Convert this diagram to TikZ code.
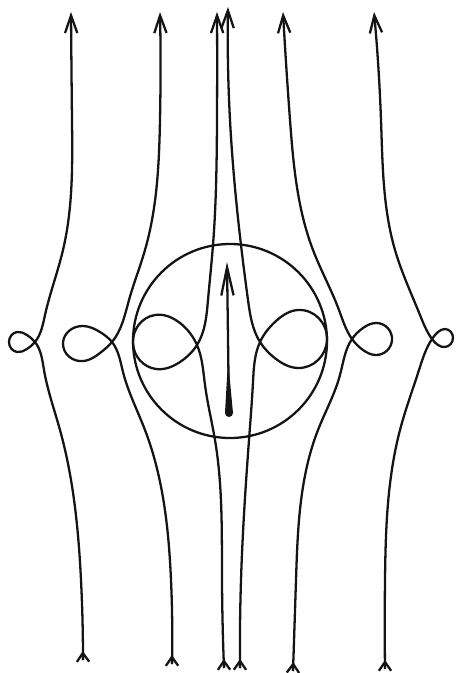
\documentclass[tikz,border=0pt]{standalone}
\usepackage{tikz}
\usetikzlibrary{arrows.meta,hobby}
\def\fieldedge{1.3}
\definecolor{fieldblack}{rgb}{0.08,0.08,0.08}
\tikzset{fieldline/.style={line width=\fieldedge, color=fieldblack, use Hobby shortcut,
    -{Straight Barb[length=10pt,width=7pt]}},
  tailtip/.style={line width=\fieldedge, color=fieldblack, -{Straight Barb[length=5pt,width=7pt]}}}

\begin{document}
\begin{tikzpicture}[x = 0.02cm, y = -0.02cm, scale = 1]

            \useasboundingbox (0,0) rectangle (456,673);

            % outer left line
            \node (t1) at (71,12){};
            \node (p1) at (72,120){};
            \node (q1) at (63,250){};
            \node (n1) at (45,315){};
            \node (c1) at (35,342){};
            \node (k1) at (27,349){};
            \node (l1) at (17,352){};
            \node (f1) at (9,342){};
            \node (u1) at (17,332){};
            \node (v1) at (27,335){};
            \node (m1) at (44,370){};
            \node (r1) at (60,430){};
            \node (s1) at (81,580){};
            \node (e1) at (82.8,651){};
            \node (b1) at (83,660){};

            \node (t2) at (160,12){};
            \node (p2) at (160,120){};
            \node (q2) at (145,250){};
            \node (n2) at (129,300){};
            \node (c2) at (112,342){};
            \node (k2) at (100,353){};
            \node (l2) at (84,361){};
            \node (f2) at (63,343){};
            \node (u2) at (83,326){};
            \node (v2) at (100,332){};
            \node (m2) at (123,372){};
            \node (r2) at (145,430){};
            \node (s2) at (171,580){};
            \node (e2) at (171.9,655){};
            \node (b2) at (172,664){};

            % lines through the circle
            \node (t3) at (217,12){};
            \node (p3) at (217,120){};
            \node (q3) at (213,245){};
            \node (n3) at (208,300){};
            \node (c3) at (197,345){};
            \node (k3) at (180,362){};
            \node (l3) at (156,369){};
            \node (f3) at (133,343){};
            \node (u3) at (155,315){};
            \node (v3) at (180,323){};
            \node (m3) at (205,385){};
            \node (r3) at (215,440){};
            \node (s3) at (222,580){};
            \node (e3) at (223.8,659){};
            \node (b3) at (224,668){};

            \node (t4) at (228,7){};
            \node (p4) at (230,120){};
            \node (q4) at (241,245){};
            \node (n4) at (248,300){};
            \node (c4) at (260,342){};
            \node (k4) at (276,359){};
            \node (l4) at (298,368){};
            \node (f4) at (327,340){};
            \node (u4) at (298,310){};
            \node (v4) at (276,321){};
            \node (m4) at (253,382){};
            \node (r4) at (249,440){};
            \node (s4) at (241,580){};
            \node (e4) at (240.1,659){};
            \node (b4) at (240,668){};

            % right lines
            \node (t5) at (283,12){};
            \node (p5) at (290,120){};
            \node (q5) at (313,250){};
            \node (n5) at (339,310){};
            \node (c5) at (352,339){};
            \node (k5) at (363,350){};
            \node (l5) at (376,355){};
            \node (f5) at (392,340){};
            \node (u5) at (377,323){};
            \node (v5) at (363,328){};
            \node (m5) at (340,375){};
            \node (r5) at (318,430){};
            \node (s5) at (296,580){};
            \node (e5) at (293.3,662){};
            \node (b5) at (293,671){};

            \node (t6) at (374,12){};
            \node (p6) at (381,120){};
            \node (q6) at (395,250){};
            \node (n6) at (420,315){};
            \node (c6) at (432,339){};
            \node (k6) at (438,345){};
            \node (l6) at (445,347){};
            \node (f6) at (453,338){};
            \node (u6) at (445,329){};
            \node (v6) at (438,332){};
            \node (m6) at (419,370){};
            \node (r6) at (400,430){};
            \node (s6) at (385,580){};
            \node (e6) at (385,660){};
            \node (b6) at (385,669){};

            \draw [fieldline] (b1.center) .. (s1.center) .. (r1.center) .. (m1.center) .. (c1.center) .. (v1.center) .. (u1.center) .. (f1.center) .. (l1.center) .. (k1.center) .. (c1.center) .. (n1.center) .. (q1.center) .. (p1.center) .. (t1.center);
            \draw [fieldline] (b2.center) .. (s2.center) .. (r2.center) .. (m2.center) .. (c2.center) .. (v2.center) .. (u2.center) .. (f2.center) .. (l2.center) .. (k2.center) .. (c2.center) .. (n2.center) .. (q2.center) .. (p2.center) .. (t2.center);
            \draw [fieldline] (b3.center) .. (s3.center) .. (r3.center) .. (m3.center) .. (c3.center) .. (v3.center) .. (u3.center) .. (f3.center) .. (l3.center) .. (k3.center) .. (c3.center) .. (n3.center) .. (q3.center) .. (p3.center) .. (t3.center);
            \draw [fieldline] (b4.center) .. (s4.center) .. (r4.center) .. (m4.center) .. (c4.center) .. (v4.center) .. (u4.center) .. (f4.center) .. (l4.center) .. (k4.center) .. (c4.center) .. (n4.center) .. (q4.center) .. (p4.center) .. (t4.center);
            \draw [fieldline] (b5.center) .. (s5.center) .. (r5.center) .. (m5.center) .. (c5.center) .. (v5.center) .. (u5.center) .. (f5.center) .. (l5.center) .. (k5.center) .. (c5.center) .. (n5.center) .. (q5.center) .. (p5.center) .. (t5.center);
            \draw [fieldline] (b6.center) .. (s6.center) .. (r6.center) .. (m6.center) .. (c6.center) .. (v6.center) .. (u6.center) .. (f6.center) .. (l6.center) .. (k6.center) .. (c6.center) .. (n6.center) .. (q6.center) .. (p6.center) .. (t6.center);

            \draw [tailtip] (b1.center) -- (e1.center);
            \draw [tailtip] (b2.center) -- (e2.center);
            \draw [tailtip] (b3.center) -- (e3.center);
            \draw [tailtip] (b4.center) -- (e4.center);
            \draw [tailtip] (b5.center) -- (e5.center);
            \draw [tailtip] (b6.center) -- (e6.center);

            % the sphere and the dipole
            \node (ctr) at (230,341){};
            \draw [line width=\fieldedge, color=fieldblack] (ctr.center) circle (97);

            \node (arrowbot) at (229,414){};
            \node (arrowtop) at (227,262){};
            \node (neck) at (228,360){};
            \node (bulb) at (225,413){};

            \draw [line width=\fieldedge, color=fieldblack, -{Straight Barb[length=16pt,width=7pt]}] (arrowbot.center) -- (arrowtop.center);
            \fill [fieldblack] (neck.center) -- (bulb.center) arc [start angle=180, end angle=0, radius=4] -- cycle;

        \end{tikzpicture}
\end{document}
